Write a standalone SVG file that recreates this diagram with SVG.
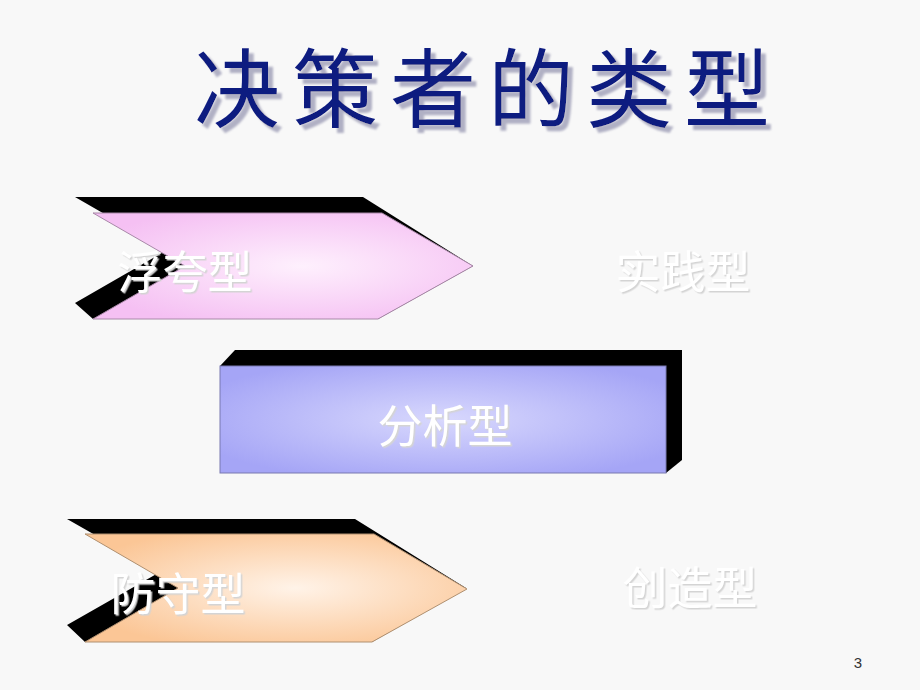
<svg xmlns="http://www.w3.org/2000/svg" width="920" height="690" viewBox="0 0 920 690">
<defs>
<radialGradient id="gPink" cx="0.55" cy="0.5" r="0.6">
<stop offset="0" stop-color="#fef0fd"/>
<stop offset="1" stop-color="#f5c0f3"/>
</radialGradient>
<radialGradient id="gBlue" cx="0.5" cy="0.5" r="0.6">
<stop offset="0" stop-color="#d8d8fd"/>
<stop offset="1" stop-color="#a5a5f6"/>
</radialGradient>
<radialGradient id="gPeach" cx="0.55" cy="0.5" r="0.6">
<stop offset="0" stop-color="#fff3e8"/>
<stop offset="1" stop-color="#fbc696"/>
</radialGradient>
<filter id="tsh" x="-10%" y="-10%" width="130%" height="130%">
<feDropShadow dx="1.5" dy="1.5" stdDeviation="0.6" flood-color="#d4d4d4" flood-opacity="1"/>
</filter>
<filter id="ttlsh" x="-5%" y="-10%" width="115%" height="130%">
<feDropShadow dx="5" dy="5" stdDeviation="0.8" flood-color="#b0b0c4" flood-opacity="1"/>
</filter>
<style>
.ext{fill:#000000;}
.lbl{font-family:"Noto Sans CJK SC","Noto Sans CJK JP",sans-serif;font-size:45px;fill:#ffffff;text-anchor:middle;filter:url(#tsh);}
.ttl{font-family:"Noto Sans CJK SC","Noto Sans CJK JP",sans-serif;font-size:86px;font-weight:400;letter-spacing:12px;fill:#0c1a80;filter:url(#ttlsh);}
</style>
</defs>
<rect width="920" height="690" fill="#f8f8f8"/>
<g id="title">
<text class="ttl" x="194" y="121">决策者的类型</text>
</g>
<g id="node-fukua">
<polygon class="ext" points="75,197 363,197 473,266 378,319 93,319 75,303 167,250"/>
<polygon points="93,213 382,213 473,266 378,319 93,319 185,266" fill="url(#gPink)" stroke="#a888a8" stroke-width="1"/>
<text class="lbl" x="185" y="289">浮夸型</text>
</g>
<g id="node-shijian">
<text class="lbl" x="683" y="289">实践型</text>
</g>
<g id="node-fenxi">
<polygon class="ext" points="220,366 235,350 682,350 682,460 666,473"/>
<rect x="220" y="366" width="446" height="107" fill="url(#gBlue)" stroke="#7878b0" stroke-width="1"/>
<text class="lbl" x="445" y="443">分析型</text>
</g>
<g id="node-fangshou">
<polygon class="ext" points="67,519 355,519 466,588 372,642 85,642 67,625 160,572"/>
<polygon points="85,534 374,534 467,589 372,642 85,642 178,588" fill="url(#gPeach)" stroke="#b09070" stroke-width="1"/>
<text class="lbl" x="178" y="611">防守型</text>
</g>
<g id="node-chuangzao">
<text class="lbl" x="690" y="605">创造型</text>
</g>
<text x="858" y="668" font-family="Liberation Sans, sans-serif" font-size="15" fill="#333333" text-anchor="middle">3</text>
</svg>
